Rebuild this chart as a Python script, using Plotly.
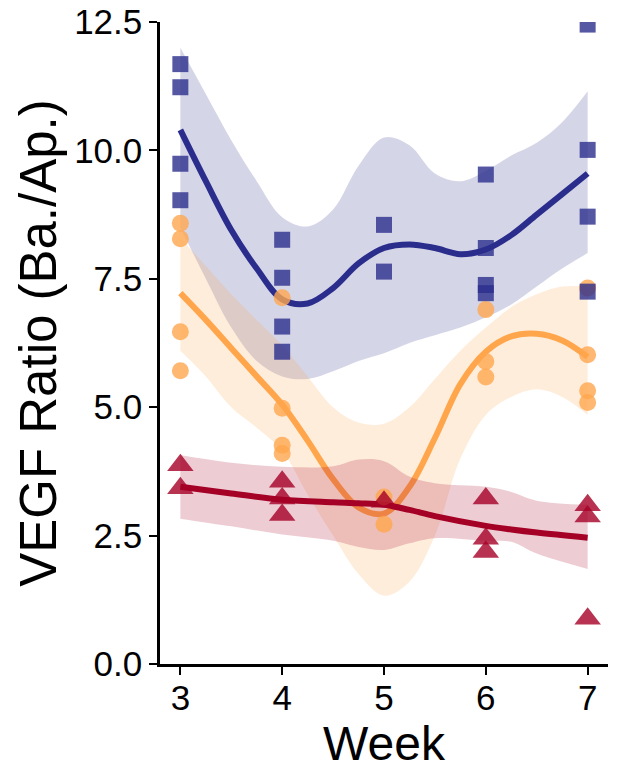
import plotly.graph_objects as go

# ---- raw points ----
blue_x = [3, 3, 3, 3, 4, 4, 4, 4, 5, 5, 6, 6, 6, 6, 7, 7, 7, 7]
blue_y = [11.68, 11.23, 9.74, 9.03, 8.26, 7.52, 6.57, 6.08, 8.55, 7.64,
          9.53, 8.10, 7.38, 7.22, 12.45, 10.01, 8.71, 7.25]

orange_x = [3, 3, 3, 3, 4, 4, 4, 4, 5, 5, 6, 6, 6, 7, 7, 7, 7]
orange_y = [8.58, 8.28, 6.47, 5.71, 7.13, 4.98, 4.26, 4.10, 3.25, 2.72,
            6.90, 5.89, 5.59, 7.32, 6.02, 5.32, 5.09]

red_x = [3, 3, 4, 4, 4, 5, 6, 6, 6, 7, 7, 7]
red_y = [3.87, 3.42, 3.55, 3.22, 2.90, 3.16, 3.22, 2.44, 2.18, 3.09, 2.87, 0.88]

# ---- smoothed fits ----
blue_fx = [3, 3.25, 3.5, 3.75, 4, 4.25, 4.5, 4.75, 5, 5.25, 5.5, 5.75, 6, 6.25, 6.5, 6.75, 7]
blue_fit = [10.4, 9.4, 8.45, 7.7, 7.1, 7.02, 7.32, 7.8, 8.1, 8.17, 8.1, 7.98, 8.07, 8.35, 8.75, 9.15, 9.55]
blue_hi = [12.0, 11.1, 10.2, 9.4, 8.7, 8.52, 8.85, 9.7, 10.25, 10.1, 9.55, 9.4, 9.6, 9.9, 10.15, 10.55, 11.15]
blue_lo = [8.5, 7.5, 6.55, 5.9, 5.6, 5.55, 5.7, 5.9, 6.05, 6.25, 6.4, 6.55, 6.75, 7.0, 7.35, 7.7, 8.0]

orange_fx = [3, 3.25, 3.5, 3.75, 4, 4.25, 4.5, 4.75, 5, 5.25, 5.5, 5.75, 6, 6.25, 6.5, 6.75, 7]
orange_fit = [7.22, 6.7, 6.15, 5.6, 5.05, 4.35, 3.6, 3.05, 2.93, 3.45, 4.4, 5.45, 6.08, 6.38, 6.43, 6.3, 5.98]
orange_hi = [8.3, 7.75, 7.2, 6.7, 6.2, 5.6, 5.0, 4.7, 4.68, 5.0, 5.55, 6.1, 6.55, 6.95, 7.2, 7.35, 7.35]
orange_lo = [6.1, 5.6, 5.0, 4.6, 4.15, 3.3, 2.5, 1.75, 1.33, 1.6, 2.5, 4.0, 4.85, 5.2, 5.35, 5.2, 4.85]

red_fx = [3, 3.5, 4, 4.5, 4.75, 5, 5.25, 5.5, 6, 6.25, 6.5, 7]
red_fit = [3.45, 3.32, 3.2, 3.15, 3.13, 3.1, 3.0, 2.88, 2.69, 2.62, 2.56, 2.46]
red_hi = [4.07, 3.92, 3.84, 3.85, 3.98, 3.95, 3.65, 3.52, 3.45, 3.35, 3.18, 3.1]
red_lo = [2.83, 2.68, 2.52, 2.4, 2.28, 2.22, 2.35, 2.45, 2.4, 2.38, 2.15, 1.85]

groups = [
    dict(fx=blue_fx, fit=blue_fit, hi=blue_hi, lo=blue_lo, line="#2B2D8C",
         band="rgba(43,45,140,0.2)"),
    dict(fx=orange_fx, fit=orange_fit, hi=orange_hi, lo=orange_lo, line="#FFA64D",
         band="rgba(255,166,77,0.2)"),
    dict(fx=red_fx, fit=red_fit, hi=red_hi, lo=red_lo, line="#A50026",
         band="rgba(165,0,38,0.2)"),
]

fig = go.Figure()
for g in groups:
    fig.add_trace(go.Scatter(x=g["fx"], y=g["lo"], mode="lines", line=dict(width=0, shape="spline"),
                             showlegend=False, hoverinfo="skip"))
    fig.add_trace(go.Scatter(x=g["fx"], y=g["hi"], mode="lines", line=dict(width=0, shape="spline"),
                             fill="tonexty", fillcolor=g["band"], showlegend=False, hoverinfo="skip"))
    fig.add_trace(go.Scatter(x=g["fx"], y=g["fit"], mode="lines",
                             line=dict(width=6, color=g["line"], shape="spline"), showlegend=False))

fig.add_trace(go.Scatter(x=orange_x, y=orange_y, mode="markers", showlegend=False,
                         marker=dict(symbol="circle", size=17, color="rgba(255,166,77,0.8)",
                                     line=dict(width=0))))
fig.add_trace(go.Scatter(x=red_x, y=red_y, mode="markers", showlegend=False,
                         marker=dict(symbol="triangle-up", size=23, color="rgba(165,0,38,0.8)",
                                     line=dict(width=0))))
fig.add_trace(go.Scatter(x=blue_x, y=blue_y, mode="markers", showlegend=False,
                         marker=dict(symbol="square", size=16, color="rgba(43,45,140,0.8)",
                                     line=dict(width=0))))

font_family = "Liberation Sans, Arial, sans-serif"
fig.update_layout(
    width=617, height=770,
    margin=dict(l=160, r=9, t=22, b=106),
    paper_bgcolor="white", plot_bgcolor="white",
    font=dict(family=font_family, color="black"),
)
fig.update_xaxes(
    range=[2.8, 7.2], tickvals=[3, 4, 5, 6, 7], ticktext=["3", "4", "5", "6", "7"],
    showline=True, linecolor="black", linewidth=2.5, ticks="outside", ticklen=8,
    tickwidth=2, tickcolor="black", showgrid=False, zeroline=False, automargin=False,
    ticklabelstandoff=-7,
    tickfont=dict(size=35), title=dict(text="Week", font=dict(size=48), standoff=10),
)
fig.update_yaxes(
    range=[0, 12.5], tickvals=[0, 2.5, 5, 7.5, 10, 12.5],
    ticktext=["0.0", "2.5", "5.0", "7.5", "10.0", "12.5"],
    showline=True, linecolor="black", linewidth=2.5, ticks="outside", ticklen=8,
    tickwidth=2, tickcolor="black", showgrid=False, zeroline=False, automargin=False,
    tickfont=dict(size=35), title=dict(text="VEGF Ratio (Ba./Ap.)", font=dict(size=51), standoff=2),
)

fig.write_html("out.html")
